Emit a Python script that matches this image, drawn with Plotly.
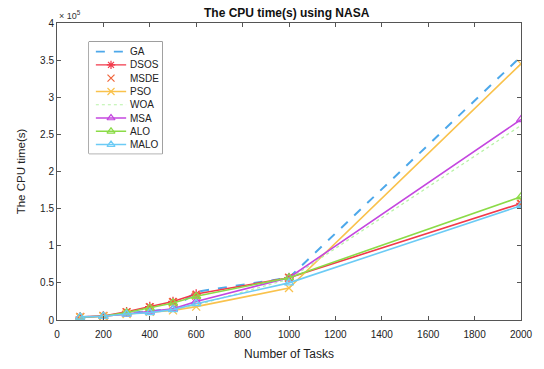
import plotly.graph_objects as go

# Number of tasks (x) and CPU time in seconds for each algorithm
tasks = [100, 200, 300, 400, 500, 600, 1000, 2000]

ga   = [4000, 5000, 9000, 12000, 15000, 38000, 57000, 355000]
dsos = [4000, 5500, 11000, 18000, 25000, 35000, 57000, 157000]
msde = [4000, 5500, 10500, 17000, 24000, 33000, 57000, 156000]
pso  = [3500, 5000, 8000, 11000, 13000, 18000, 43000, 345000]
woa  = [3500, 5000, 8500, 11000, 14000, 20000, 55000, 262000]
msa  = [4000, 5000, 8000, 11000, 15000, 25000, 57000, 270000]
alo  = [4000, 5000, 10000, 16000, 23000, 32000, 57000, 166000]
malo = [4000, 5000, 8000, 10000, 14000, 22000, 50000, 154000]

y_ticks = [0, 50000, 100000, 150000, 200000, 250000, 300000, 350000, 400000]
y_tick_text = ["0", "0.5", "1", "1.5", "2", "2.5", "3", "3.5", "4"]
x_ticks = [0, 200, 400, 600, 800, 1000, 1200, 1400, 1600, 1800, 2000]

# name, values, colour, dash, marker symbol, mode, line width
series = [
    ("GA",   ga,   "#4DA8EA", "dash",  None,               "lines",         2.0),
    ("DSOS", dsos, "#F2394A", "solid", "asterisk-open",    "lines+markers", 1.6),
    ("MSDE", msde, "#F0643A", "solid", "x-thin-open",      "markers",       1.6),
    ("PSO",  pso,  "#F9C24C", "solid", "x-thin-open",      "lines+markers", 1.6),
    ("WOA",  woa,  "#B9F2A8", "dot",   None,               "lines",         1.3),
    ("MSA",  msa,  "#C447DF", "solid", "triangle-up-open", "lines+markers", 1.6),
    ("ALO",  alo,  "#8BDB47", "solid", "triangle-up-open", "lines+markers", 1.6),
    ("MALO", malo, "#6CCBF5", "solid", "triangle-up-open", "lines+markers", 1.6),
]

fig = go.Figure()

for name, vals, color, dash, symbol, mode, width in series:
    fig.add_trace(go.Scatter(
        x=tasks, y=vals, name=name, mode=mode, showlegend=False,
        line=dict(color=color, dash=dash, width=width),
        marker=dict(symbol=symbol or "circle", size=8, color=color,
                    line=dict(color=color, width=1.3)),
    ))

# Compact MATLAB-style legend drawn on its own small overlay axes
LEG_X0, LEG_X1, LEG_Y0, LEG_Y1 = 0.069, 0.227, 0.56, 0.937
row_gap = 13.4
for i, (name, vals, color, dash, symbol, mode, width) in enumerate(series):
    ry = 10 + row_gap * i
    if "lines" in mode:
        fig.add_trace(go.Scatter(
            x=[7, 38], y=[ry, ry], mode="lines", showlegend=False, hoverinfo="skip",
            line=dict(color=color, dash=dash, width=width * 0.9),
            xaxis="x2", yaxis="y2"))
    if "markers" in mode:
        fig.add_trace(go.Scatter(
            x=[22.5], y=[ry], mode="markers", showlegend=False, hoverinfo="skip",
            marker=dict(symbol=symbol, size=7, color=color,
                        line=dict(color=color, width=1.2)),
            xaxis="x2", yaxis="y2"))
    fig.add_annotation(text=name, xref="x2", yref="y2", x=40, y=ry,
                       xanchor="left", yanchor="middle", showarrow=False,
                       font=dict(size=10, color="#222222"))

fig.add_shape(type="rect", xref="paper", yref="paper",
              x0=LEG_X0, x1=LEG_X1, y0=LEG_Y0, y1=LEG_Y1,
              line=dict(color="#555555", width=1), fillcolor="rgba(255,255,255,0)",
              layer="below")

axis_common = dict(
    showgrid=False, zeroline=False, showline=True, mirror="ticks",
    linecolor="#555555", linewidth=1, ticks="inside", ticklen=4,
    tickcolor="#555555", tickfont=dict(family="Liberation Sans", size=10, color="#222222"),
)

fig.update_layout(
    width=544, height=369,
    margin=dict(l=57, r=11, t=23, b=46),
    plot_bgcolor="white", paper_bgcolor="white",
    font=dict(family="Liberation Sans", color="#222222"),
    title=dict(text="<b>The CPU time(s) using NASA</b>", x=0.527, xanchor="center",
               y=0.965, yanchor="middle", font=dict(size=12, color="#111111")),
    xaxis=dict(range=[0, 2000], tickvals=x_ticks, ticklabelstandoff=5,
               title=dict(text="Number of Tasks", font=dict(size=12), standoff=10),
               **axis_common),
    yaxis=dict(range=[0, 400000], tickvals=y_ticks, ticktext=y_tick_text,
               title=dict(text="The CPU time(s)", font=dict(size=11.5), standoff=12),
               **axis_common),
    xaxis2=dict(domain=[LEG_X0, LEG_X1], range=[0, 75], anchor="y2",
                visible=False, fixedrange=True),
    yaxis2=dict(domain=[LEG_Y0, LEG_Y1], range=[113, 0], anchor="x2",
                visible=False, fixedrange=True),
    showlegend=False,
)

fig.add_annotation(text="× 10<sup>5</sup>", xref="paper", yref="paper",
                   x=0.0, y=1.0, xanchor="left", yanchor="bottom",
                   showarrow=False, font=dict(size=9, color="#333333"))

fig.write_html("out.html")
